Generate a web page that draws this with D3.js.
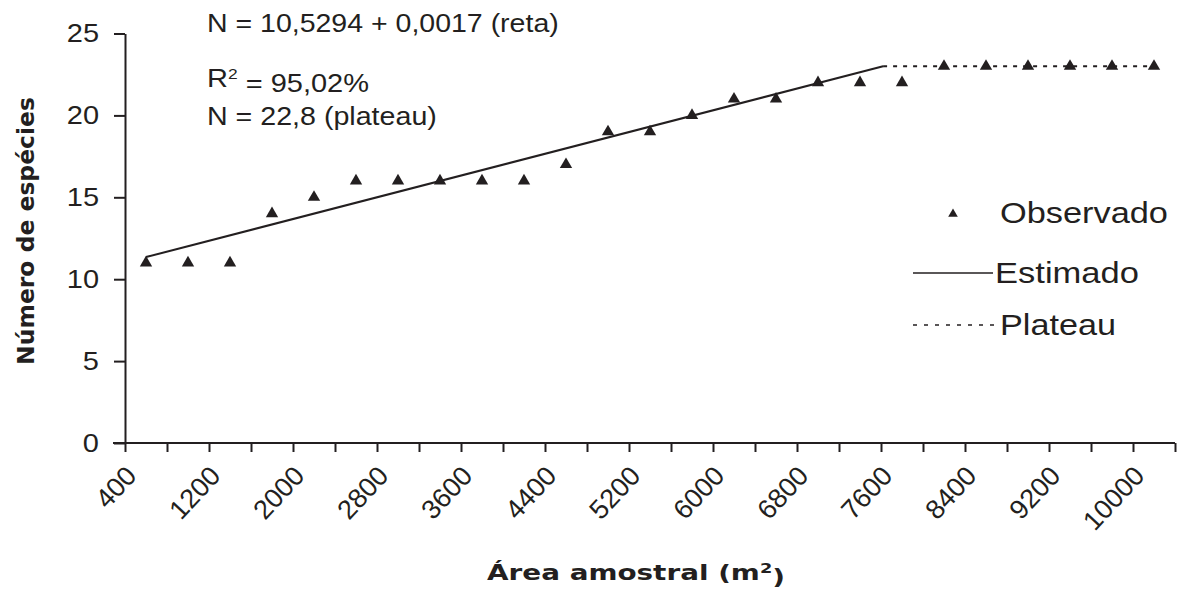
<!DOCTYPE html>
<html>
<head>
<meta charset="utf-8">
<script src="https://cdn.jsdelivr.net/npm/d3@7"></script>
<style>
  html, body { margin: 0; padding: 0; background: #ffffff; }
  svg { display: block; }
  text { font-family: "Liberation Sans", Arial, sans-serif; fill: #231f20; }
  .bold { font-family: "DejaVu Sans", Verdana, sans-serif; font-weight: bold; }
</style>
</head>
<body>
<svg id="chart" width="1184" height="590"></svg>
<script>
// ---- data ----
const categories = [400, 800, 1200, 1600, 2000, 2400, 2800, 3200, 3600, 4000, 4400, 4800, 5200,
                    5600, 6000, 6400, 6800, 7200, 7600, 8000, 8400, 8800, 9200, 9600, 10000];
const observed = [11, 11, 11, 14, 15, 16, 16, 16, 16, 16, 17, 19, 19,
                  20, 21, 21, 22, 22, 22, 23, 23, 23, 23, 23, 23];
const xTickLabels = ["400", "1200", "2000", "2800", "3600", "4400", "5200",
                     "6000", "6800", "7600", "8400", "9200", "10000"];
const yTicks = [0, 5, 10, 15, 20, 25];
const estimatedX = [400, 7420];
const estimatedN = [11.35, 23.0];
const plateauX = [7420, 10000];
const plateauN = [23.0, 23.0];
const annotations = ["N = 10,5294 + 0,0017 (reta)", "R² = 95,02%", "N = 22,8 (plateau)"];
const legendLabels = ["Observado", "Estimado", "Plateau"];

// ---- layout ----
const ink = "#231f20";
const svg = d3.select("#chart");
const pLeft = 125, pRight = 1175, pTop = 33.5, pBottom = 443;
const step = 400;
const x = d3.scaleLinear()
  .domain([categories[0] - step / 2, categories[categories.length - 1] + step / 2])
  .range([pLeft, pRight]);
const y = d3.scaleLinear().domain([0, 25]).range([pBottom, pTop]);

// scale text horizontally (along its baseline) to a target width
function fitWidth(sel, target) {
  sel.each(function () {
    const w = this.getBBox().width;
    const k = target / w;
    const t = d3.select(this).attr("transform") || "";
    d3.select(this).attr("transform", t + ` scale(${k},1)`);
  });
}

// ---- y axis ----
const yAxis = d3.axisLeft(y).tickValues(yTicks).tickSize(11).tickSizeOuter(0).tickPadding(17);
const gy = svg.append("g").attr("transform", `translate(${pLeft},0)`).call(yAxis);
gy.select(".domain").attr("stroke", ink).attr("stroke-width", 2);
gy.selectAll(".tick line").attr("stroke", ink).attr("stroke-width", 2);
gy.selectAll(".tick text")
  .style("font-family", '"Liberation Sans", Arial, sans-serif')
  .style("font-size", "25px").attr("fill", ink)
  .attr("transform", "scale(1.16,1)").attr("x", -26 / 1.16);

// ---- x axis (boundary ticks, like a category axis) ----
const boundaries = categories.map(c => c - step / 2).concat([categories[categories.length - 1] + step / 2]);
const xAxis = d3.axisBottom(x).tickValues(boundaries).tickSize(9).tickSizeOuter(0).tickFormat("");
const gx = svg.append("g").attr("transform", `translate(0,${pBottom})`).call(xAxis);
gx.select(".domain").attr("stroke", ink).attr("stroke-width", 2)
  .attr("d", `M${pLeft - 12},0H${pRight}`);
gx.selectAll(".tick line").attr("stroke", ink).attr("stroke-width", 2);

// rotated category labels
svg.append("g").selectAll("text")
  .data(xTickLabels)
  .join("text")
  .attr("transform", d => `translate(${x(+d) - 8},${pBottom + 34}) rotate(-47)`)
  .attr("text-anchor", "end")
  .style("font-size", "27px")
  .text(d => d);

// ---- lines ----
const line = d3.line().x(d => x(d[0])).y(d => y(d[1]));
svg.append("path")
  .datum(estimatedX.map((v, i) => [v, estimatedN[i]]))
  .attr("d", line).attr("fill", "none").attr("stroke", ink).attr("stroke-width", 2);
svg.append("path")
  .datum(plateauX.map((v, i) => [v, plateauN[i]]))
  .attr("d", line).attr("fill", "none").attr("stroke", ink).attr("stroke-width", 2)
  .attr("stroke-dasharray", "4,6");

// ---- observed points ----
const tri = d3.symbol().type(d3.symbolTriangle).size(66);
svg.append("g").selectAll("path")
  .data(observed)
  .join("path")
  .attr("d", tri)
  .attr("transform", (d, i) => `translate(${x(categories[i])},${y(d)})`)
  .attr("fill", ink);

// ---- annotations ----
const annY = [23, 78, 116];
const annW = [352, 162, 230];
annotations.forEach((t, i) => {
  const txt = svg.append("text")
    .attr("transform", `translate(207,${annY[i]})`)
    .attr("dy", "0.35em")
    .style("font-size", "25px");
  if (t.startsWith("R²")) {
    txt.append("tspan").text("R");
    txt.append("tspan").attr("dy", "-0.55em").style("font-size", "15px").text("2");
    txt.append("tspan").attr("dy", "0.55em").text(" = 95,02%");
  } else {
    txt.text(t);
  }
  fitWidth(txt, annW[i]);
});

// ---- legend ----
const lg = svg.append("g");
lg.append("path").attr("d", d3.symbol().type(d3.symbolTriangle).size(40))
  .attr("transform", `translate(953,214)`).attr("fill", ink);
lg.append("line").attr("x1", 913).attr("x2", 993).attr("y1", 273).attr("y2", 273)
  .attr("stroke", ink).attr("stroke-width", 1.6);
lg.append("line").attr("x1", 913).attr("x2", 996).attr("y1", 325).attr("y2", 325)
  .attr("stroke", ink).attr("stroke-width", 1.6).attr("stroke-dasharray", "4,7");
const legY = [212, 272, 324];
const legX = [1000, 995, 1000];
const legW = [168, 144, 116];
legendLabels.forEach((t, i) => {
  const txt = lg.append("text")
    .attr("transform", `translate(${legX[i]},${legY[i]})`)
    .attr("dy", "0.35em")
    .style("font-size", "30px")
    .text(t);
  fitWidth(txt, legW[i]);
});

// ---- axis titles ----
const yt = svg.append("text").attr("class", "bold")
  .attr("transform", "translate(34,231) rotate(-90)")
  .attr("text-anchor", "middle")
  .style("font-size", "23px")
  .text("Número de espécies");
fitWidth(yt, 268);

const xt = svg.append("text").attr("class", "bold")
  .attr("transform", "translate(636,580)")
  .attr("text-anchor", "middle")
  .style("font-size", "22px");
xt.append("tspan").text("Área amostral (m");
xt.append("tspan").attr("dy", "-0.5em").style("font-size", "14px").text("2");
xt.append("tspan").attr("dy", "0.5em").text(")");
fitWidth(xt, 298);
</script>
</body>
</html>
